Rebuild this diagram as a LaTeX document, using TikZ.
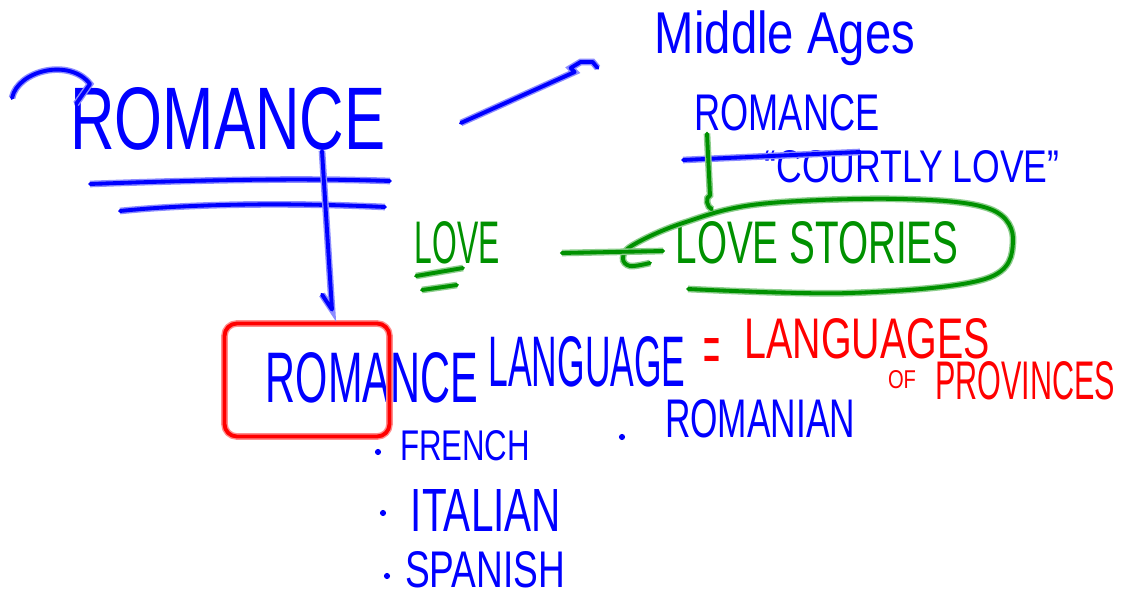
\documentclass[tikz,border=0pt]{standalone}
\usepackage{fontspec}
\setmainfont{Liberation Sans}
\usepackage{xcolor}
\definecolor{inkblue}{RGB}{0,0,255}
\definecolor{inkgreen}{RGB}{0,145,0}
\definecolor{inkred}{RGB}{255,0,0}
\newlength\pxu
\setlength\pxu{0.02cm}
% handwritten words: width and cap height in pixels
\newcommand{\hand}[3]{\resizebox{#1\pxu}{#2\pxu}{#3}}
\newcommand{\handt}[3]{\resizebox*{#1\pxu}{#2\pxu}{#3}}

\begin{document}
\begin{tikzpicture}[x=0.02cm, y=-0.02cm,
		bluepen/.style={draw=inkblue, line width=2.2pt, line cap=round, line join=round,
			preaction={draw=inkblue!45, line width=3.8pt}},
		greenpen/.style={draw=inkgreen, line width=2.2pt, line cap=round, line join=round,
			preaction={draw=inkgreen!45, line width=3.8pt}},
		redpen/.style={draw=inkred, line width=2.2pt, line cap=round, line join=round,
			preaction={draw=inkred!45, line width=3.8pt}},
		word/.style={inner sep=0pt, anchor=center},
		bullet/.style={circle, fill=inkblue, inner sep=0pt, minimum size=3.5pt}]
	\fill[white] (0,0) rectangle (1125,597);
	\useasboundingbox (0,0) rectangle (1125,597);

	% blue words
	\node[word, text=inkblue] (romance) at (228,119) {\hand{315}{62}{ROMANCE}};
	\node[word, text=inkblue] (middle) at (785,38) {\handt{260}{55}{Middle Ages}};
	\node[word, text=inkblue] (romsmall) at (787,113) {\hand{185}{36}{ROMANCE}};
	\node[word, text=inkblue] (courtly) at (912,167) {\hand{295}{32}{“COURTLY LOVE”}};
	\node[word, text=inkblue] (romlang) at (372,378) {\hand{212}{50}{ROMANCE}};
	\node[word, text=inkblue] (language) at (587,362) {\hand{197}{50}{LANGUAGE}};
	\node[word, text=inkblue] (romanian) at (760,419) {\hand{190}{38}{ROMANIAN}};
	\node[word, text=inkblue] (french) at (465,446) {\hand{130}{30}{FRENCH}};
	\node[word, text=inkblue] (italian) at (486,510) {\hand{150}{42}{ITALIAN}};
	\node[word, text=inkblue] (spanish) at (485,570) {\hand{160}{36}{SPANISH}};
	\node[bullet] (dotromanian) at (622,437) {};
	\node[bullet] (dotfrench) at (378,452) {};
	\node[bullet] (dotitalian) at (383,513) {};
	\node[bullet] (dotspanish) at (387,576) {};

	% green words
	\node[word, text=inkgreen] (love) at (457,243) {\hand{85}{42}{LOVE}};
	\node[word, text=inkgreen] (stories) at (817,243) {\hand{283}{42}{LOVE STORIES}};

	% red words
	\node[word, text=inkred] (equals) at (712,356) {\hand{17}{35}{=}};
	\node[word, text=inkred] (languages) at (867,339) {\hand{245}{40}{LANGUAGES}};
	\node[word, text=inkred] (of) at (902,380) {\hand{28}{18}{OF}};
	\node[word, text=inkred] (provinces) at (1025,381) {\hand{180}{38}{PROVINCES}};
	\node[redpen, rounded corners=7pt, minimum width=3.3cm, minimum height=2.26cm] (box) at (307,380) {};

	% strokes
	\draw[bluepen] (12,98) .. controls (18,70) and (70,58) .. (90,84) -- (76,104);
	\draw[bluepen] (90,184) .. controls (200,180) and (300,178) .. (390,181);
	\draw[bluepen] (120,211) .. controls (200,203) and (300,203) .. (385,207);
	\draw[bluepen] (683,160) -- (860,152);
	\draw[greenpen] (416,276) -- (463,268);
	\draw[greenpen] (422,290) -- (457,285);
	\draw[greenpen] plot[smooth, tension=0.6] coordinates {(688,289) (850,293) (985,279)
		(1013,242) (990,209) (900,199) (760,204) (683,223) (633,245) (623,258) (630,266) (650,263)};

	% connectors
	\draw[bluepen] ([shift={(75,4)}]romance.east) -- ([shift={(-80,34)}]middle.west)
		-- ++(-4,-4) -- ++(10,-6) -- ++(12,0) -- ++(5,6);
	\draw[bluepen] ([shift={(94,0)}]romance.south) -- ([shift={(25,-12)}]box.north) -- ++(-10,-15);
	\draw[greenpen] ([shift={(-80,2)}]romsmall.south) -- ([shift={(-107,-26)}]stories.north)
		to[out=200, in=160] ++(2,14);
	\draw[greenpen] ([shift={(62,10)}]love.east) -- ([shift={(-12,8)}]stories.west);
\end{tikzpicture}
\end{document}
